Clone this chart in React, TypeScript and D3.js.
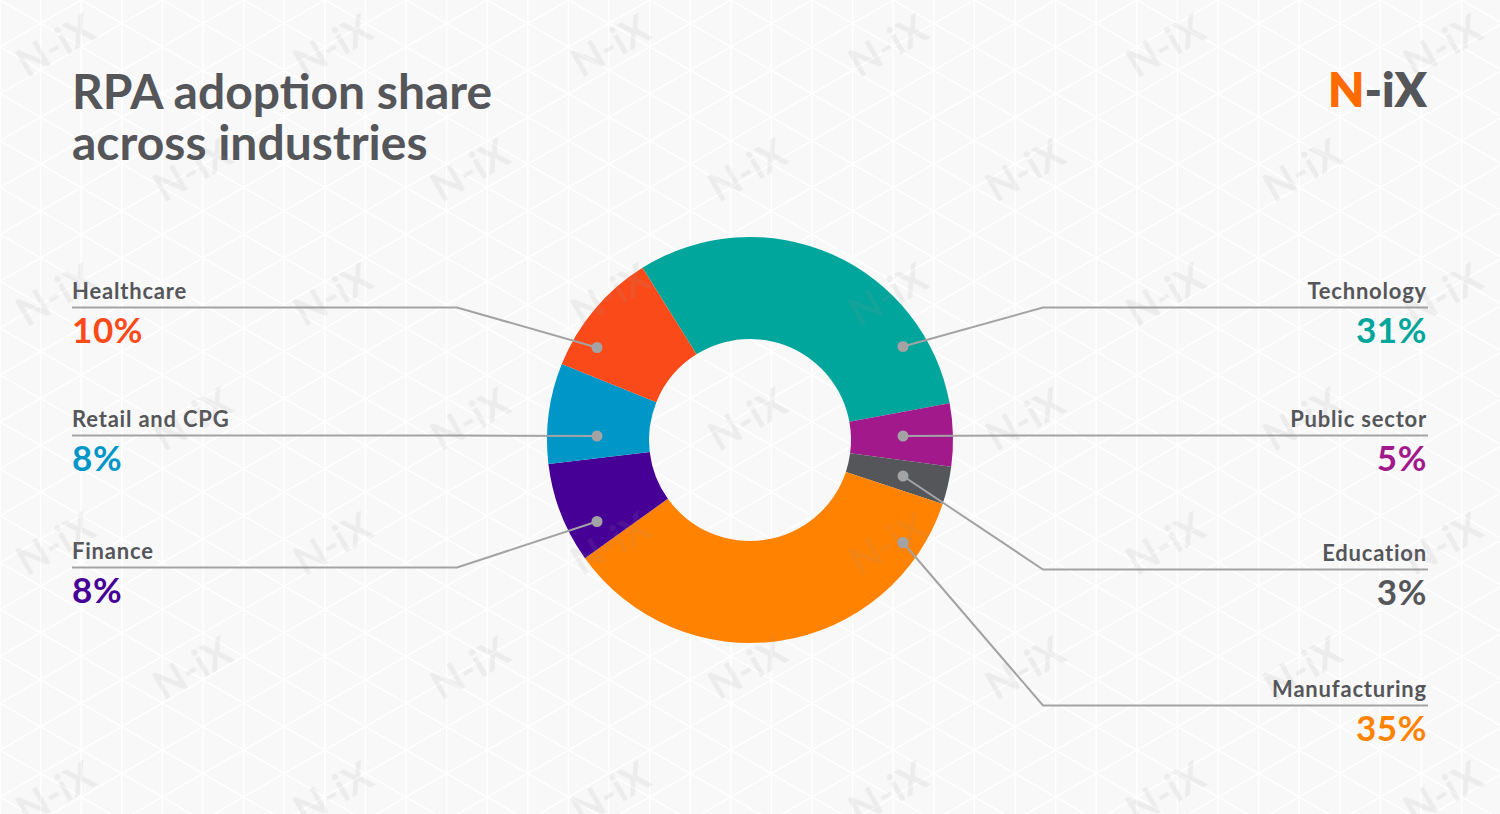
import React from "react";
import * as d3 from "d3";

// ---- data ----
const categories = ["Technology", "Public sector", "Education", "Manufacturing", "Finance", "Retail and CPG", "Healthcare"];
const shares = [31, 5, 3, 35, 8, 8, 10];
const colors = ["#00a59b", "#a2198c", "#55565a", "#ff8200", "#460096", "#0096c8", "#fb4a19"];

// ---- layout (annotation placement) ----
const sides = ["right", "right", "right", "right", "left", "left", "left"];
const leaderY = [307.5, 435.5, 569.5, 705.5, 567.5, 435.5, 307.5];
const dotY = [346.5, 436, 476, 542.5, 521.5, 436, 347.5];

const W = 1500;
const H = 814;
const CX = 750;
const CY = 440;
const R_OUT = 203;
const R_IN = 101;
const START_DEG = -32;
const FONT = "Lato, 'Open Sans', 'DejaVu Sans', sans-serif";
const TEXT_GRAY = "#55565a";
const LINE_GRAY = "#a3a3a5";

export default function App() {
  const pie = d3
    .pie<number>()
    .sort(null)
    .value((d) => d)
    .startAngle((START_DEG * Math.PI) / 180)
    .endAngle((START_DEG * Math.PI) / 180 + 2 * Math.PI);
  const arcs = pie(shares);
  const arcGen = d3.arc<d3.PieArcDatum<number>>().innerRadius(R_IN).outerRadius(R_OUT);

  // triangular background grid
  const colStep = 40.6;
  const rowStep = colStep / Math.cos(Math.PI / 6);
  const tan30 = Math.tan(Math.PI / 6);
  const verticals = d3.range(0, W + colStep, colStep);
  const diagRows = d3.range(-40, 40);

  // watermark lattice
  const wmRows = d3.range(0, 7);
  const wmCols = d3.range(0, 6);

  const dotDX = 153;
  const bendDX = 293;
  const leftEdge = 72;
  const rightEdge = 1428;

  return (
    <svg
      width={W}
      height={H}
      viewBox={`0 0 ${W} ${H}`}
      style={{ position: "absolute", left: 0, top: 0, display: "block" }}
    >
      <rect x={0} y={0} width={W} height={H} fill="#f8f8f8" />
      <g stroke="#ffffff" strokeWidth={1.4} fill="none">
        {verticals.map((x, i) => (
          <line key={"v" + i} x1={x} x2={x} y1={0} y2={H} />
        ))}
        {diagRows.map((j) => (
          <line key={"d1" + j} x1={0} y1={j * rowStep} x2={W} y2={j * rowStep + W * tan30} />
        ))}
        {diagRows.map((j) => (
          <line key={"d2" + j} x1={0} y1={j * rowStep} x2={W} y2={j * rowStep - W * tan30} />
        ))}
      </g>

      {/* title */}
      <text x={72} y={109} fontFamily={FONT} fontWeight={700} fontSize={48} fill={TEXT_GRAY}>
        <tspan x={72} y={109}>RPA adoption share</tspan>
        <tspan x={72} y={160}>across industries</tspan>
      </text>

      {/* logo */}
      <text x={1427} y={107} textAnchor="end" fontFamily={FONT} fontWeight={800} fontSize={47}>
        <tspan fill="#ff6b00">N</tspan>
        <tspan fill={TEXT_GRAY}>-iX</tspan>
      </text>

      {/* donut */}
      <g transform={`translate(${CX},${CY})`}>
        {arcs.map((a, i) => (
          <path key={categories[i]} d={arcGen(a) || ""} fill={colors[i]} />
        ))}
      </g>

      {/* leaders and labels */}
      {categories.map((c, i) => {
        const right = sides[i] === "right";
        const dx = right ? CX + dotDX : CX - dotDX;
        const bx = right ? CX + bendDX : CX - bendDX;
        const ex = right ? rightEdge : leftEdge;
        const ly = leaderY[i];
        const tx = right ? 1427 : 72;
        const anchor = right ? "end" : "start";
        return (
          <g key={c}>
            <polyline
              points={`${dx},${dotY[i]} ${bx},${ly} ${ex},${ly}`}
              fill="none"
              stroke={LINE_GRAY}
              strokeWidth={2}
            />
            <circle cx={dx} cy={dotY[i]} r={5.5} fill={LINE_GRAY} />
            <text
              x={tx}
              y={ly - 9}
              textAnchor={anchor}
              fontFamily={FONT}
              fontWeight={700}
              fontSize={22}
              letterSpacing={0.8}
              fill={TEXT_GRAY}
            >
              {c}
            </text>
            <text
              x={tx}
              y={ly + 35}
              textAnchor={anchor}
              fontFamily={FONT}
              fontWeight={700}
              fontSize={35}
              letterSpacing={0.6}
              fill={colors[i]}
            >
              {shares[i] + "%"}
            </text>
          </g>
        );
      })}

      {/* watermarks */}
      <g fontFamily={FONT} fontWeight={700} fontSize={40} fill="#9a9a9a" opacity={0.12}>
        {wmRows.map((j) =>
          wmCols.map((i) => {
            const x = (j % 2 === 0 ? 55 : 192) + i * 277.5;
            const y = 45 + j * 124.5;
            return (
              <text
                key={j + "-" + i}
                x={0}
                y={0}
                textAnchor="middle"
                dominantBaseline="central"
                transform={`translate(${x},${y}) rotate(-30)`}
              >
                N-iX
              </text>
            );
          })
        )}
      </g>
    </svg>
  );
}
